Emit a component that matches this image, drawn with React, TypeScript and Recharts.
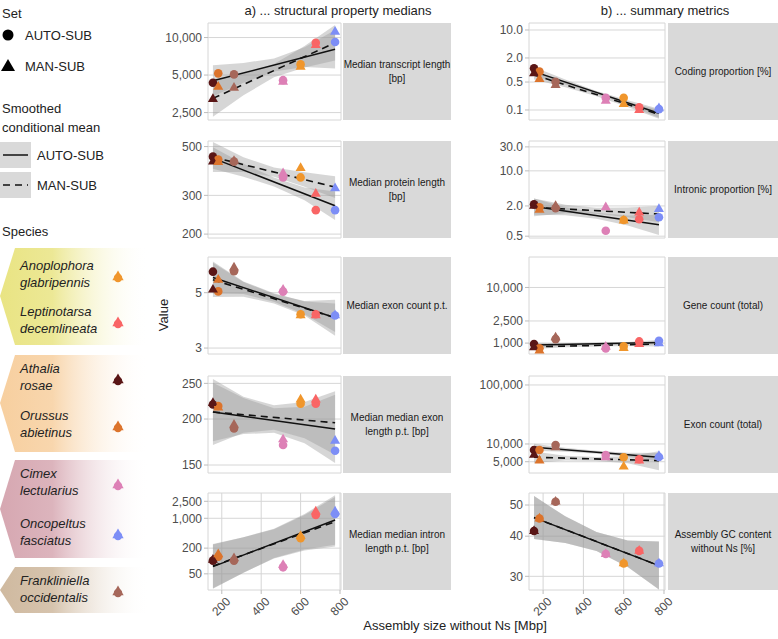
import React from "react";
import { Area, CartesianGrid, ComposedChart, Line, Scatter, XAxis, YAxis } from "recharts";

const FONT = '"Liberation Sans", Arial, Helvetica, sans-serif';

// species and their assembly size without Ns (Mbp) -> x position
const species = [
  "Athalia rosae",
  "Orussus abietinus",
  "Frankliniella occidentalis",
  "Cimex lectularius",
  "Anoplophora glabripennis",
  "Leptinotarsa decemlineata",
  "Oncopeltus fasciatus",
];
const assemblySize = [155, 182, 262, 511, 600, 677, 775];
const xTicks = [200, 400, 600, 800];
const fitX = [155, 775];
const bandX = [155, 310, 465, 620, 775];

// a) structural property medians
const transcriptAuto = [4340, 5160, 5060, 4550, 6090, 9080, 9200];
const transcriptMan = [3210, 4030, 3950, 4420, 5830, 8700, 11130];
const transcriptAutoFit = [4500, 8050];
const transcriptManFit = [3250, 9080];
const transcriptAutoLo = [3380, 4340, 5330, 5800, 5650];
const transcriptAutoHi = [6000, 6250, 6800, 8360, 11470];
const transcriptManLo = [2320, 3440, 4800, 5750, 6530];
const transcriptManHi = [4550, 5120, 6140, 8560, 12620];

const proteinAuto = [450, 437, 427, 362, 362, 257, 257];
const proteinMan = [427, 425, 430, 378, 399, 305, 323];
const proteinAutoFit = [443, 269];
const proteinManFit = [448, 327];
const proteinAutoLo = [396, 365, 329, 285, 232];
const proteinAutoHi = [496, 418, 362, 326, 312];
const proteinManLo = [383, 383, 365, 328, 292];
const proteinManHi = [524, 447, 402, 382, 366];

const exonCountAuto = [6.07, 5.06, 6.1, 5.05, 4.1, 4.1, 4.05];
const exonCountMan = [5.14, 5.63, 6.3, 5.14, 4.06, 4.06, 4.06];
const exonCountAutoFit = [5.75, 3.97];
const exonCountManFit = [5.63, 3.97];
const exonCountAutoLo = [4.96, 4.94, 4.6, 4.1, 3.48];
const exonCountAutoHi = [6.67, 5.55, 4.97, 4.61, 4.53];
const exonCountManLo = [4.81, 4.82, 4.53, 4.05, 3.36];
const exonCountManHi = [6.59, 5.52, 4.94, 4.63, 4.68];

const exonLenAuto = [219, 217, 188.5, 170, 220, 220, 164];
const exonLenMan = [221, 215, 193, 176, 226, 226, 174.5];
const exonLenAutoFit = [209, 188];
const exonLenManFit = [209, 195.4];
const exonLenAutoLo = [174, 182, 183.5, 172, 152];
const exonLenAutoHi = [251, 228, 214, 216, 233];
const exonLenManLo = [170, 183.5, 187, 177.4, 160];
const exonLenManHi = [257, 230, 218, 222.5, 238];

const intronLenAuto = [102, 126, 102, 71, 340, 1195, 1260];
const intronLenMan = [107, 143.6, 115.6, 80.8, 385, 1430, 1430];
const intronLenAutoFit = [73.6, 912];
const intronLenManFit = [76.2, 833];
const intronLenAutoLo = [22.3, 53, 118, 187, 240];
const intronLenAutoHi = [243, 359, 570, 1264, 3466];
const intronLenManLo = [23, 53, 115, 176, 219];
const intronLenManHi = [251, 360, 554, 1190, 3165];

// b) summary metrics
const codingAuto = [1.1, 0.91, 0.51, 0.203, 0.203, 0.117, 0.105];
const codingMan = [0.83, 0.595, 0.42, 0.17, 0.141, 0.1, 0.11];
const codingAutoFit = [0.91, 0.083];
const codingManFit = [0.75, 0.078];
const codingAutoLo = [0.7, 0.435, 0.25, 0.131, 0.064];
const codingAutoHi = [1.18, 0.575, 0.3, 0.174, 0.108];
const codingManLo = [0.577, 0.37, 0.22, 0.119, 0.06];
const codingManHi = [0.975, 0.49, 0.266, 0.158, 0.101];

const intronicAuto = [2.15, 1.88, 1.8, 0.64, 1.05, 1.09, 1.19];
const intronicMan = [2.0, 1.67, 2.0, 1.88, 1.02, 1.47, 1.74];
const intronicAutoFit = [1.94, 0.84];
const intronicManFit = [1.88, 1.38];
const intronicAutoLo = [1.34, 1.31, 1.11, 0.82, 0.525];
const intronicAutoHi = [2.81, 1.88, 1.47, 1.29, 1.34];
const intronicManLo = [1.25, 1.43, 1.4, 1.19, 0.95];
const intronicManHi = [2.82, 2.12, 1.85, 1.86, 2.0];

const geneCountAuto = [960, 805, 1178, 805, 873, 1072, 1100];
const geneCountMan = [838, 730, 1263, 860, 815, 960, 988];
const geneCountAutoFit = [921, 1030];
const geneCountManFit = [860, 960];
const geneCountAutoLo = [837, 900, 928, 954, 936];
const geneCountAutoHi = [1013, 993, 1023, 1052, 1133];
const geneCountManLo = [782, 841, 865, 890, 873];
const geneCountManHi = [946, 927, 953, 981, 1056];

const exonTotalAuto = [7910, 7910, 9620, 6510, 5950, 5500, 6000];
const exonTotalMan = [6510, 5210, 8790, 5950, 4120, 5210, 6260];
const exonTotalAutoFit = [8790, 5950];
const exonTotalManFit = [5950, 5210];
const exonTotalAutoLo = [7640, 7380, 6820, 6070, 5040];
const exonTotalAutoHi = [10100, 8610, 7660, 7080, 7020];
const exonTotalManLo = [4760, 5230, 5160, 4690, 3590];
const exonTotalManHi = [7440, 6330, 6020, 6200, 7550];

const gcContent = [41.5, 45.4, 51.2, 35.2, 32.9, 36.0, 32.9];
const gcFit = [45.7, 32.4];
const gcLo = [39.2, 38.1, 36.0, 32.1, 27.3];
const gcHi = [53.3, 46.1, 41.2, 38.8, 38.5];

// legend order (indices into species) and grouping
const legendGroups = [[4, 5], [0, 1], [3, 6], [2]];

const colors: Record<string, string> = {
  "Athalia rosae": "#5a1616",
  "Orussus abietinus": "#dc742c",
  "Frankliniella occidentalis": "#a6675a",
  "Cimex lectularius": "#dd80b6",
  "Anoplophora glabripennis": "#f0962c",
  "Leptinotarsa decemlineata": "#f96565",
  "Oncopeltus fasciatus": "#7d8ef6",
};
const groupFill = ["#e9e483", "#f7cf9f", "#d6a7b1", "#cfb99f"];

const comma = (v: number) => v.toLocaleString("en-US");
const oneDec = (v: number) => v.toFixed(1);
const plain = (v: number) => String(v);

const panels = [
  { col: 0, row: 0, strip: ["Median transcript length", "[bp]"], domain: [2180, 13080], ticks: [2500, 5000, 10000], fmt: comma,
    auto: transcriptAuto, man: transcriptMan, autoFit: transcriptAutoFit, manFit: transcriptManFit,
    autoLo: transcriptAutoLo, autoHi: transcriptAutoHi, manLo: transcriptManLo, manHi: transcriptManHi },
  { col: 0, row: 1, strip: ["Median protein length", "[bp]"], domain: [192, 530], ticks: [200, 300, 500], fmt: comma,
    auto: proteinAuto, man: proteinMan, autoFit: proteinAutoFit, manFit: proteinManFit,
    autoLo: proteinAutoLo, autoHi: proteinAutoHi, manLo: proteinManLo, manHi: proteinManHi },
  { col: 0, row: 2, strip: ["Median exon count p.t."], domain: [2.84, 6.95], ticks: [3, 5], fmt: plain,
    auto: exonCountAuto, man: exonCountMan, autoFit: exonCountAutoFit, manFit: exonCountManFit,
    autoLo: exonCountAutoLo, autoHi: exonCountAutoHi, manLo: exonCountManLo, manHi: exonCountManHi },
  { col: 0, row: 3, strip: ["Median median exon", "length p.t. [bp]"], domain: [142.7, 261.8], ticks: [150, 200, 250], fmt: plain,
    auto: exonLenAuto, man: exonLenMan, autoFit: exonLenAutoFit, manFit: exonLenManFit,
    autoLo: exonLenAutoLo, autoHi: exonLenAutoHi, manLo: exonLenManLo, manHi: exonLenManHi },
  { col: 0, row: 4, strip: ["Median median intron", "length p.t. [bp]"], domain: [20.9, 3914], ticks: [50, 200, 1000, 2500], fmt: comma,
    auto: intronLenAuto, man: intronLenMan, autoFit: intronLenAutoFit, manFit: intronLenManFit,
    autoLo: intronLenAutoLo, autoHi: intronLenAutoHi, manLo: intronLenManLo, manHi: intronLenManHi },
  { col: 1, row: 0, strip: ["Coding proportion [%]"], domain: [0.0562, 14.96], ticks: [0.1, 0.5, 2, 10], fmt: oneDec,
    auto: codingAuto, man: codingMan, autoFit: codingAutoFit, manFit: codingManFit,
    autoLo: codingAutoLo, autoHi: codingAutoHi, manLo: codingManLo, manHi: codingManHi },
  { col: 1, row: 1, strip: ["Intronic proportion [%]"], domain: [0.46, 39.3], ticks: [0.5, 2, 10, 30], fmt: oneDec,
    auto: intronicAuto, man: intronicMan, autoFit: intronicAutoFit, manFit: intronicManFit,
    autoLo: intronicAutoLo, autoHi: intronicAutoHi, manLo: intronicManLo, manHi: intronicManHi },
  { col: 1, row: 2, strip: ["Gene count (total)"], domain: [637, 35300], ticks: [1000, 2500, 10000], fmt: comma,
    auto: geneCountAuto, man: geneCountMan, autoFit: geneCountAutoFit, manFit: geneCountManFit,
    autoLo: geneCountAutoLo, autoHi: geneCountAutoHi, manLo: geneCountManLo, manHi: geneCountManHi },
  { col: 1, row: 3, strip: ["Exon count (total)"], domain: [3220, 142000], ticks: [5000, 10000, 100000], fmt: comma,
    auto: exonTotalAuto, man: exonTotalMan, autoFit: exonTotalAutoFit, manFit: exonTotalManFit,
    autoLo: exonTotalAutoLo, autoHi: exonTotalAutoHi, manLo: exonTotalManLo, manHi: exonTotalManHi },
  { col: 1, row: 4, strip: ["Assembly GC content", "without Ns [%]"], domain: [27.2, 54.5], ticks: [30, 40, 50], fmt: plain,
    auto: gcContent, man: gcContent, autoFit: gcFit, manFit: gcFit,
    autoLo: gcLo, autoHi: gcHi, manLo: gcLo, manHi: gcHi },
];

const ROW_TOPS = [23, 141, 257, 376, 493];
const PANEL_H = 97;
const COLS = [
  { plotLeft: 208, plotW: 133, stripX: 343, stripW: 108 },
  { plotLeft: 529, plotW: 136, stripX: 668, stripW: 110 },
];
const YW = 64;
const X_AXIS_H = 34;
const PAD = 8; // room round each panel so edge tick labels are not clipped
const PAD_R = 18;

function CircleDot(props: any) {
  const { cx, cy, payload } = props;
  if (cx == null || cy == null) return null;
  return <circle cx={cx} cy={cy} r={4.3} fill={colors[payload.sp]} />;
}

function TriDot(props: any) {
  const { cx, cy, payload } = props;
  if (cx == null || cy == null) return null;
  const r = 5.8;
  return (
    <polygon
      points={`${cx},${cy - r} ${cx - r * 0.866},${cy + r * 0.5} ${cx + r * 0.866},${cy + r * 0.5}`}
      fill={colors[payload.sp]}
    />
  );
}

function XTick(props: any) {
  const { x, y, payload } = props;
  return (
    <text
      x={0}
      y={0}
      dy={9}
      transform={`translate(${x + 3},${y}) rotate(-45)`}
      textAnchor="end"
      fontSize={12}
      fill="#4d4d4d"
      fontFamily={FONT}
    >
      {payload.value}
    </text>
  );
}

function Panel({ p }: { p: any }) {
  const col = COLS[p.col];
  const bottom = p.row === 4;
  const h = PANEL_H + (bottom ? X_AXIS_H : 0) + 2 * PAD;
  const pts = (vals: number[]) => species.map((sp, i) => ({ x: assemblySize[i], y: vals[i], sp }));
  const fit = (v: number[]) => fitX.map((x, i) => ({ x, y: v[i] }));
  const band = (lo: number[], hi: number[]) => bandX.map((x, i) => ({ x, range: [lo[i], hi[i]] }));

  return (
    <div style={{ position: "absolute", left: col.plotLeft - YW, top: ROW_TOPS[p.row] - PAD }}>
      <ComposedChart width={YW + col.plotW + PAD_R} height={h} margin={{ top: PAD, right: PAD_R, bottom: PAD, left: 0 }}>
        <CartesianGrid stroke="#d6d6d6" strokeWidth={1} />
        <XAxis
          dataKey="x"
          type="number"
          domain={[130, 805]}
          ticks={xTicks}
          interval={0}
          allowDataOverflow
          height={bottom ? X_AXIS_H : 0}
          axisLine={false}
          tickLine={bottom ? { stroke: "#bdbdbd" } : false}
          tickSize={4}
          tickMargin={2}
          tick={bottom ? <XTick /> : false}
        />
        <YAxis
          type="number"
          scale="log"
          domain={p.domain}
          ticks={p.ticks}
          interval={0}
          allowDataOverflow
          width={YW}
          axisLine={false}
          tickLine={{ stroke: "#bdbdbd" }}
          tickSize={4}
          tickMargin={2}
          tickFormatter={p.fmt}
          tick={{ fill: "#4d4d4d", fontSize: 12, fontFamily: FONT }}
        />
        <Area data={band(p.autoLo, p.autoHi)} dataKey="range" type="linear" stroke="none" fill="#999999" fillOpacity={0.4} isAnimationActive={false} />
        <Area data={band(p.manLo, p.manHi)} dataKey="range" type="linear" stroke="none" fill="#999999" fillOpacity={0.4} isAnimationActive={false} />
        <Line data={fit(p.autoFit)} dataKey="y" type="linear" stroke="#111" strokeWidth={1.5} dot={false} isAnimationActive={false} />
        <Line data={fit(p.manFit)} dataKey="y" type="linear" stroke="#111" strokeWidth={1.6} strokeDasharray="7 5" dot={false} isAnimationActive={false} />
        <Scatter data={pts(p.auto)} dataKey="y" shape={CircleDot} isAnimationActive={false} />
        <Scatter data={pts(p.man)} dataKey="y" shape={TriDot} isAnimationActive={false} />
      </ComposedChart>
    </div>
  );
}

function Glyph({ x, y, color }: { x: number; y: number; color: string }) {
  const r = 6.5;
  return (
    <g>
      <polygon points={`${x},${y - r} ${x - r * 0.866},${y + r * 0.5} ${x + r * 0.866},${y + r * 0.5}`} fill={color} />
      <circle cx={x} cy={y + 1} r={4.2} fill={color} />
    </g>
  );
}

function Decorations() {
  const groupBoxes = [
    { top: 248, bottom: 345, tip: 296 },
    { top: 355, bottom: 452, tip: 403 },
    { top: 460, bottom: 558, tip: 509 },
    { top: 567, bottom: 613, tip: 590 },
  ];
  const glyphY = [[277, 323], [380, 427], [485, 535], [592]];
  const txt = { fontFamily: FONT, fill: "#222" } as const;
  return (
    <svg width={778} height={639} style={{ position: "absolute", left: 0, top: 0 }}>
      <defs>
        {groupFill.map((c, i) => (
          <linearGradient key={i} id={`g${i}`} x1="0" x2="1" y1="0" y2="0">
            <stop offset="0" stopColor={c} />
            <stop offset="0.35" stopColor={c} stopOpacity={0.85} />
            <stop offset="1" stopColor="#ffffff" stopOpacity={0} />
          </linearGradient>
        ))}
      </defs>

      {/* strips */}
      {panels.map((p, i) => {
        const col = COLS[p.col];
        const top = ROW_TOPS[p.row];
        const cy = top + PANEL_H / 2;
        const cx = col.stripX + col.stripW / 2;
        return (
          <g key={i}>
            <rect x={col.stripX} y={top} width={col.stripW} height={PANEL_H} fill="#d9d9d9" />
            {p.strip.map((line: string, j: number) => (
              <text key={j} x={cx} y={cy + (j - (p.strip.length - 1) / 2) * 14} textAnchor="middle" dominantBaseline="central" fontSize={10} fontFamily={FONT} fill="#1a1a1a">
                {line}
              </text>
            ))}
          </g>
        );
      })}

      {/* titles */}
      <text x={338} y={10} textAnchor="middle" dominantBaseline="central" fontSize={13} {...txt}>a) ... structural property medians</text>
      <text x={665} y={10} textAnchor="middle" dominantBaseline="central" fontSize={13} {...txt}>b) ... summary metrics</text>
      <text x={455} y={625} textAnchor="middle" dominantBaseline="central" fontSize={13} {...txt}>Assembly size without Ns [Mbp]</text>
      <text x={0} y={0} transform="translate(163,315) rotate(-90)" textAnchor="middle" dominantBaseline="central" fontSize={13} {...txt}>Value</text>

      {/* legend: Set */}
      <text x={2} y={13} dominantBaseline="central" fontSize={13} {...txt}>Set</text>
      <circle cx={8} cy={35} r={5.5} fill="#000" />
      <text x={25} y={35} dominantBaseline="central" fontSize={13} {...txt}>AUTO-SUB</text>
      <polygon points="8,59 1,71 15,71" fill="#000" />
      <text x={25} y={66} dominantBaseline="central" fontSize={13} {...txt}>MAN-SUB</text>

      {/* legend: smoothed */}
      <text x={2} y={108} dominantBaseline="central" fontSize={13} {...txt}>Smoothed</text>
      <text x={2} y={127} dominantBaseline="central" fontSize={13} {...txt}>conditional mean</text>
      <rect x={0} y={142} width={31} height={26} fill="#d9d9d9" />
      <line x1={3} x2={28} y1={155} y2={155} stroke="#111" strokeWidth={1.5} />
      <text x={37} y={155} dominantBaseline="central" fontSize={13} {...txt}>AUTO-SUB</text>
      <rect x={0} y={172} width={31} height={26} fill="#d9d9d9" />
      <line x1={3} x2={28} y1={185} y2={185} stroke="#111" strokeWidth={1.6} strokeDasharray="7 5" />
      <text x={37} y={185} dominantBaseline="central" fontSize={13} {...txt}>MAN-SUB</text>

      {/* legend: species */}
      <text x={2} y={231} dominantBaseline="central" fontSize={13} {...txt}>Species</text>
      {groupBoxes.map((b, gi) => (
        <polygon key={gi} points={`15,${b.top} 150,${b.top} 150,${b.bottom} 15,${b.bottom} 0,${b.tip}`} fill={`url(#g${gi})`} />
      ))}
      {legendGroups.map((grp, gi) =>
        grp.map((si, k) => {
          const gy = glyphY[gi][k];
          const [genus, epithet] = species[si].split(" ");
          return (
            <g key={`${gi}-${k}`}>
              <text x={20} y={gy - 12} dominantBaseline="central" fontSize={13} fontStyle="italic" {...txt}>{genus}</text>
              <text x={20} y={gy + 5} dominantBaseline="central" fontSize={13} fontStyle="italic" {...txt}>{epithet}</text>
              <Glyph x={118} y={gy} color={colors[species[si]]} />
            </g>
          );
        })
      )}
    </svg>
  );
}

export default function App() {
  return (
    <div style={{ position: "absolute", left: 0, top: 0, width: 778, height: 639, background: "#fff", overflow: "hidden", fontFamily: FONT }}>
      <Decorations />
      {panels.map((p, i) => (
        <Panel key={i} p={p} />
      ))}
    </div>
  );
}
